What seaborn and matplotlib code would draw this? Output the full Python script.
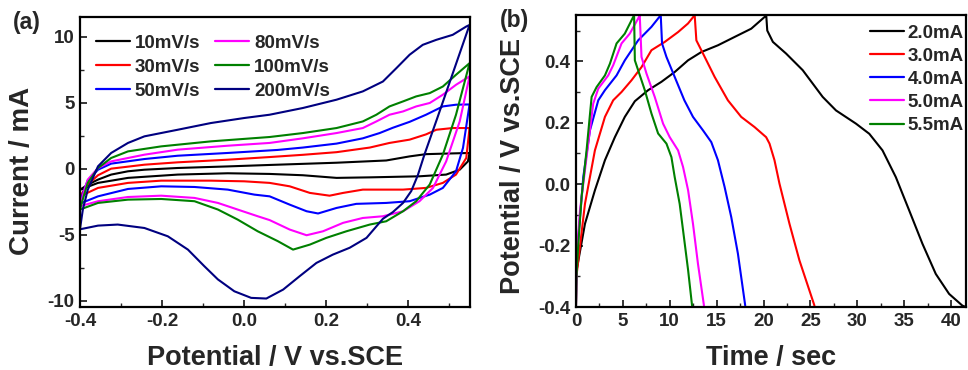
import numpy as np
import matplotlib
matplotlib.use("Agg")
import matplotlib.pyplot as plt
import seaborn as sns
from matplotlib.ticker import MultipleLocator

sns.set_style("ticks")
plt.rcParams['font.family'] = ['Liberation Sans', 'DejaVu Sans']
plt.rcParams['font.weight'] = 'bold'

# ---------------- (a) CV data (potential V, current mA) ----------------
cv_labels = ["10mV/s", "30mV/s", "50mV/s", "80mV/s", "100mV/s", "200mV/s"]
cv_colors = ["#000000", "#ff0000", "#0000ff", "#ff00ff", "#008000", "#000080"]

cv10_v = [-0.4, -0.38, -0.356, -0.324, -0.283, -0.243, -0.162, -0.04, 0.062, 0.225, 0.346, 0.403, 0.443, 0.5, 0.549,
          0.545, 0.525, 0.492, 0.427, 0.306, 0.225, 0.143, 0.062, -0.04, -0.162, -0.283, -0.356, -0.4]
cv10_i = [-1.6, -1.2, -0.83, -0.45, -0.2, -0.08, 0.05, 0.17, 0.28, 0.45, 0.62, 0.93, 1.1, 1.15, 1.19,
          0.55, -0.08, -0.45, -0.58, -0.66, -0.7, -0.5, -0.4, -0.35, -0.45, -0.7, -1.08, -1.6]

cv30_v = [-0.4, -0.381, -0.356, -0.324, -0.243, -0.162, -0.04, 0.062, 0.143, 0.225, 0.306, 0.354, 0.403, 0.443, 0.468, 0.508, 0.549,
          0.541, 0.516, 0.484, 0.443, 0.387, 0.289, 0.241, 0.208, 0.16, 0.111, 0.062, 0.0, -0.081, -0.202, -0.283, -0.356, -0.4]
cv30_i = [-2.1, -1.2, -0.5, 0.0, 0.3, 0.48, 0.68, 0.88, 1.05, 1.25, 1.6, 1.95, 2.2, 2.6, 2.95, 3.08, 3.08,
          0.81, -0.45, -1.08, -1.46, -1.59, -1.59, -1.84, -2.05, -1.84, -1.34, -1.08, -0.96, -0.91, -0.91, -1.08, -1.46, -2.1]

cv50_v = [-0.4, -0.39, -0.381, -0.356, -0.324, -0.243, -0.162, -0.04, 0.082, 0.143, 0.225, 0.289, 0.33, 0.362, 0.403, 0.443, 0.484, 0.516, 0.549,
          0.533, 0.516, 0.484, 0.452, 0.403, 0.346, 0.273, 0.225, 0.18, 0.152, 0.111, 0.062, 0.025, -0.04, -0.121, -0.202, -0.283, -0.356, -0.4]
cv50_i = [-2.6, -1.6, -0.9, -0.08, 0.38, 0.73, 0.98, 1.19, 1.42, 1.6, 1.9, 2.3, 2.7, 3.1, 3.55, 4.09, 4.72, 4.85, 4.87,
          1.57, -0.2, -1.46, -1.97, -2.47, -2.6, -2.67, -2.98, -3.4, -3.23, -2.73, -2.1, -1.97, -1.59, -1.39, -1.34, -1.54, -2.1, -2.65]

cv80_v = [-0.4, -0.39, -0.381, -0.356, -0.324, -0.243, -0.162, -0.04, 0.062, 0.143, 0.225, 0.289, 0.322, 0.354, 0.387, 0.419, 0.452, 0.484, 0.516, 0.549,
          0.525, 0.492, 0.46, 0.427, 0.387, 0.338, 0.289, 0.241, 0.192, 0.152, 0.111, 0.062, 0.033, -0.016, -0.064, -0.121, -0.202, -0.283, -0.356, -0.4]
cv80_i = [-2.85, -1.7, -0.83, 0.05, 0.55, 1.06, 1.44, 1.74, 1.95, 2.3, 2.7, 3.08, 3.58, 4.09, 4.34, 4.72, 4.98, 5.61, 6.36, 7.0,
          3.58, 0.55, -1.46, -2.47, -3.23, -3.61, -3.74, -4.11, -4.75, -5.05, -4.62, -3.9, -3.61, -3.1, -2.6, -2.22, -2.05, -2.15, -2.47, -2.85]

cv100_v = [-0.4, -0.39, -0.381, -0.356, -0.324, -0.283, -0.202, -0.081, 0.062, 0.143, 0.225, 0.289, 0.322, 0.354, 0.387, 0.419, 0.452, 0.484, 0.516, 0.549,
           0.516, 0.484, 0.452, 0.419, 0.387, 0.346, 0.306, 0.249, 0.2, 0.16, 0.119, 0.082, 0.033, -0.016, -0.064, -0.121, -0.202, -0.283, -0.356, -0.4]
cv100_i = [-3.1, -2.0, -1.08, 0.05, 0.81, 1.31, 1.69, 2.07, 2.4, 2.7, 3.08, 3.58, 4.09, 4.72, 5.1, 5.48, 5.73, 6.23, 7.12, 8.0,
           4.09, 1.06, -1.2, -2.47, -3.23, -3.99, -4.24, -4.75, -5.25, -5.76, -6.14, -5.5, -4.75, -3.86, -3.1, -2.47, -2.3, -2.35, -2.6, -3.1]

cv200_v = [-0.4, -0.393, -0.381, -0.356, -0.324, -0.283, -0.243, -0.162, -0.081, 0.0, 0.062, 0.143, 0.225, 0.289, 0.338, 0.371, 0.403, 0.435, 0.468, 0.508, 0.541, 0.549,
           0.5, 0.47, 0.439, 0.423, 0.407, 0.387, 0.362, 0.338, 0.298, 0.257, 0.216, 0.176, 0.135, 0.095, 0.054, 0.017, -0.024, -0.064, -0.097, -0.137, -0.186, -0.243, -0.308, -0.356, -0.4]
cv200_i = [-4.6, -3.1, -1.6, 0.18, 1.19, 1.95, 2.45, 2.95, 3.46, 3.84, 4.09, 4.6, 5.23, 5.86, 6.61, 7.63, 8.64, 9.39, 9.77, 10.15, 10.78, 10.9,
           6.5, 3.8, 1.06, -0.5, -1.7, -2.6, -3.3, -3.8, -5.25, -6.0, -6.52, -7.15, -8.16, -9.17, -9.85, -9.8, -9.3, -8.4, -7.4, -6.14, -5.13, -4.5, -4.24, -4.32, -4.6]

cv_data = [(cv10_v, cv10_i), (cv30_v, cv30_i), (cv50_v, cv50_i),
           (cv80_v, cv80_i), (cv100_v, cv100_i), (cv200_v, cv200_i)]

# ---------------- (b) GCD data (time s, potential V) ----------------
gcd_labels = ["2.0mA", "3.0mA", "4.0mA", "5.0mA", "5.5mA"]
gcd_colors = ["#000000", "#ff0000", "#0000ff", "#ff00ff", "#008000"]

gcd20_t = [0, 0.02, 0.07, 0.96, 2.02, 3.09, 4.15, 5.21, 6.28, 7.7, 9.11, 10.53, 11.95, 13.37, 15.14, 16.91, 18.69, 20.11, 20.29,
           20.4, 21.0, 22.41, 24.18, 26.31, 27.73, 29.86, 31.28, 32.69, 34.11, 35.53, 36.95, 38.37, 39.79, 41.2, 41.6]
gcd20_v = [-0.4, -0.33, -0.28, -0.129, -0.02, 0.078, 0.153, 0.219, 0.27, 0.306, 0.333, 0.365, 0.403, 0.43, 0.452, 0.479, 0.506, 0.544, 0.55,
           0.5, 0.463, 0.425, 0.371, 0.284, 0.24, 0.197, 0.164, 0.11, 0.023, -0.085, -0.194, -0.292, -0.357, -0.395, -0.40]

gcd30_t = [0, 0.05, 0.96, 2.02, 3.09, 3.97, 4.86, 5.92, 6.99, 8.05, 9.47, 10.89, 11.95, 12.66,
           12.84, 13.55, 14.79, 16.2, 17.62, 19.04, 20.28, 20.64, 21.17, 21.7, 22.77, 23.83, 25.43]
gcd30_v = [-0.4, -0.3, -0.064, 0.11, 0.219, 0.273, 0.3, 0.338, 0.381, 0.436, 0.463, 0.495, 0.523, 0.55,
           0.468, 0.425, 0.349, 0.273, 0.219, 0.186, 0.153, 0.132, 0.078, 0.002, -0.129, -0.248, -0.395]

gcd40_t = [0, 0.05, 0.78, 1.49, 2.38, 3.09, 4.33, 5.21, 6.63, 8.05, 9.04,
           9.18, 9.65, 10.53, 11.56, 12.48, 13.55, 14.43, 15.14, 15.85, 16.56, 17.27, 18.05]
gcd40_v = [-0.4, -0.25, 0.023, 0.175, 0.273, 0.306, 0.354, 0.403, 0.468, 0.512, 0.55,
           0.458, 0.414, 0.349, 0.273, 0.219, 0.175, 0.137, 0.078, -0.009, -0.107, -0.226, -0.395]

gcd50_t = [0, 0.05, 0.43, 1.31, 1.84, 2.38, 3.44, 3.97, 4.86, 5.74, 6.63, 6.8,
           6.99, 7.52, 8.40, 9.29, 10.0, 10.89, 11.42, 11.96, 12.48, 13.01, 13.65]
gcd50_v = [-0.4, -0.25, -0.085, 0.132, 0.262, 0.311, 0.354, 0.387, 0.458, 0.49, 0.539, 0.55,
           0.414, 0.36, 0.284, 0.197, 0.153, 0.11, 0.056, -0.02, -0.129, -0.259, -0.395]

gcd55_t = [0, 0.05, 0.25, 0.6, 1.13, 1.67, 2.2, 3.09, 3.62, 4.33, 5.21, 6.1, 6.2,
           6.28, 6.63, 7.34, 8.05, 8.76, 9.65, 10.18, 10.53, 11.06, 11.42, 11.96, 12.38]
gcd55_v = [-0.4, -0.3, -0.194, -0.042, 0.11, 0.284, 0.316, 0.354, 0.392, 0.458, 0.49, 0.544, 0.55,
           0.403, 0.371, 0.306, 0.23, 0.165, 0.132, 0.088, 0.023, -0.064, -0.15, -0.28, -0.395]

gcd_data = [(gcd20_t, gcd20_v), (gcd30_t, gcd30_v), (gcd40_t, gcd40_v),
            (gcd50_t, gcd50_v), (gcd55_t, gcd55_v)]

# ---------------- figure ----------------
fig = plt.figure(figsize=(9.68, 3.70), dpi=100)
ax1 = fig.add_axes([0.0826, 0.170, 0.4029, 0.784])
ax2 = fig.add_axes([0.595, 0.170, 0.403, 0.789])

for (x, y), lab, col in zip(cv_data, cv_labels, cv_colors):
    sns.lineplot(x=np.array(x), y=np.array(y), sort=False, estimator=None,
                 color=col, label=lab, ax=ax1, linewidth=1.5)

for (x, y), lab, col in zip(gcd_data, gcd_labels, gcd_colors):
    sns.lineplot(x=np.array(x), y=np.array(y), sort=False, estimator=None,
                 color=col, label=lab, ax=ax2, linewidth=1.5)

tick_fs = 13.5
for ax in (ax1, ax2):
    for s in ax.spines.values():
        s.set_visible(True)
        s.set_linewidth(1.6)
        s.set_color("black")
    ax.tick_params(which="major", direction="in", length=5, width=1.3,
                   labelsize=tick_fs, top=False, right=False, pad=4)
    ax.tick_params(which="minor", direction="in", length=3, width=1.0,
                   top=False, right=False)

ax1.set_xlim(-0.4, 0.55)
ax1.set_ylim(-10.5, 11.5)
ax1.set_xticks([-0.4, -0.2, 0.0, 0.2, 0.4])
ax1.set_xticklabels(["-0.4", "-0.2", "0.0", "0.2", "0.4"], fontweight="bold")
ax1.xaxis.set_minor_locator(MultipleLocator(0.1))
ax1.set_yticks([-10, -5, 0, 5, 10])
ax1.set_yticklabels(["-10", "-5", "0", "5", "10"], fontweight="bold")
ax1.yaxis.set_minor_locator(MultipleLocator(2.5))
ax1.set_xlabel("Potential / V vs.SCE", fontsize=19.5, fontweight="bold", labelpad=11)
ax1.set_ylabel("Current / mA", fontsize=20, fontweight="bold", labelpad=9)
ax1.yaxis.label.set_y(0.47)

ax2.set_xlim(0, 41.6)
ax2.set_ylim(-0.4, 0.55)
ax2.set_xticks([0, 5, 10, 15, 20, 25, 30, 35, 40])
ax2.set_xticklabels(["0", "5", "10", "15", "20", "25", "30", "35", "40"], fontweight="bold")
ax2.xaxis.set_minor_locator(MultipleLocator(2.5))
ax2.set_yticks([-0.4, -0.2, 0.0, 0.2, 0.4])
ax2.set_yticklabels(["-0.4", "-0.2", "0.0", "0.2", "0.4"], fontweight="bold")
ax2.yaxis.set_minor_locator(MultipleLocator(0.1))
ax2.set_xlabel("Time / sec", fontsize=19.5, fontweight="bold", labelpad=11)
ax2.set_ylabel("Potential / V vs.SCE", fontsize=19.5, fontweight="bold", labelpad=9)
ax2.yaxis.label.set_y(0.485)

leg1 = ax1.legend(ncol=2, loc="upper left", bbox_to_anchor=(0.022, 0.965),
                  frameon=False, handlelength=1.8, handletextpad=0.27,
                  labelspacing=0.36, columnspacing=0.8, borderaxespad=0.0,
                  prop={"weight": "bold", "size": 13.5})
leg2 = ax2.legend(loc="upper right", bbox_to_anchor=(1.018, 1.0), frameon=False,
                  handlelength=1.8, handletextpad=0.2, labelspacing=0.32,
                  borderaxespad=0.1, prop={"weight": "bold", "size": 13.5})
for leg in (leg1, leg2):
    for h in leg.get_lines():
        h.set_linewidth(1.6)

fig.text(13 / 968, 1 - 22 / 370, "(a)", fontsize=16.5, fontweight="bold", va="center", ha="left")
fig.text(500 / 968, 1 - 20 / 370, "(b)", fontsize=16.5, fontweight="bold", va="center", ha="left")

fig.savefig("out.png", dpi=100)
